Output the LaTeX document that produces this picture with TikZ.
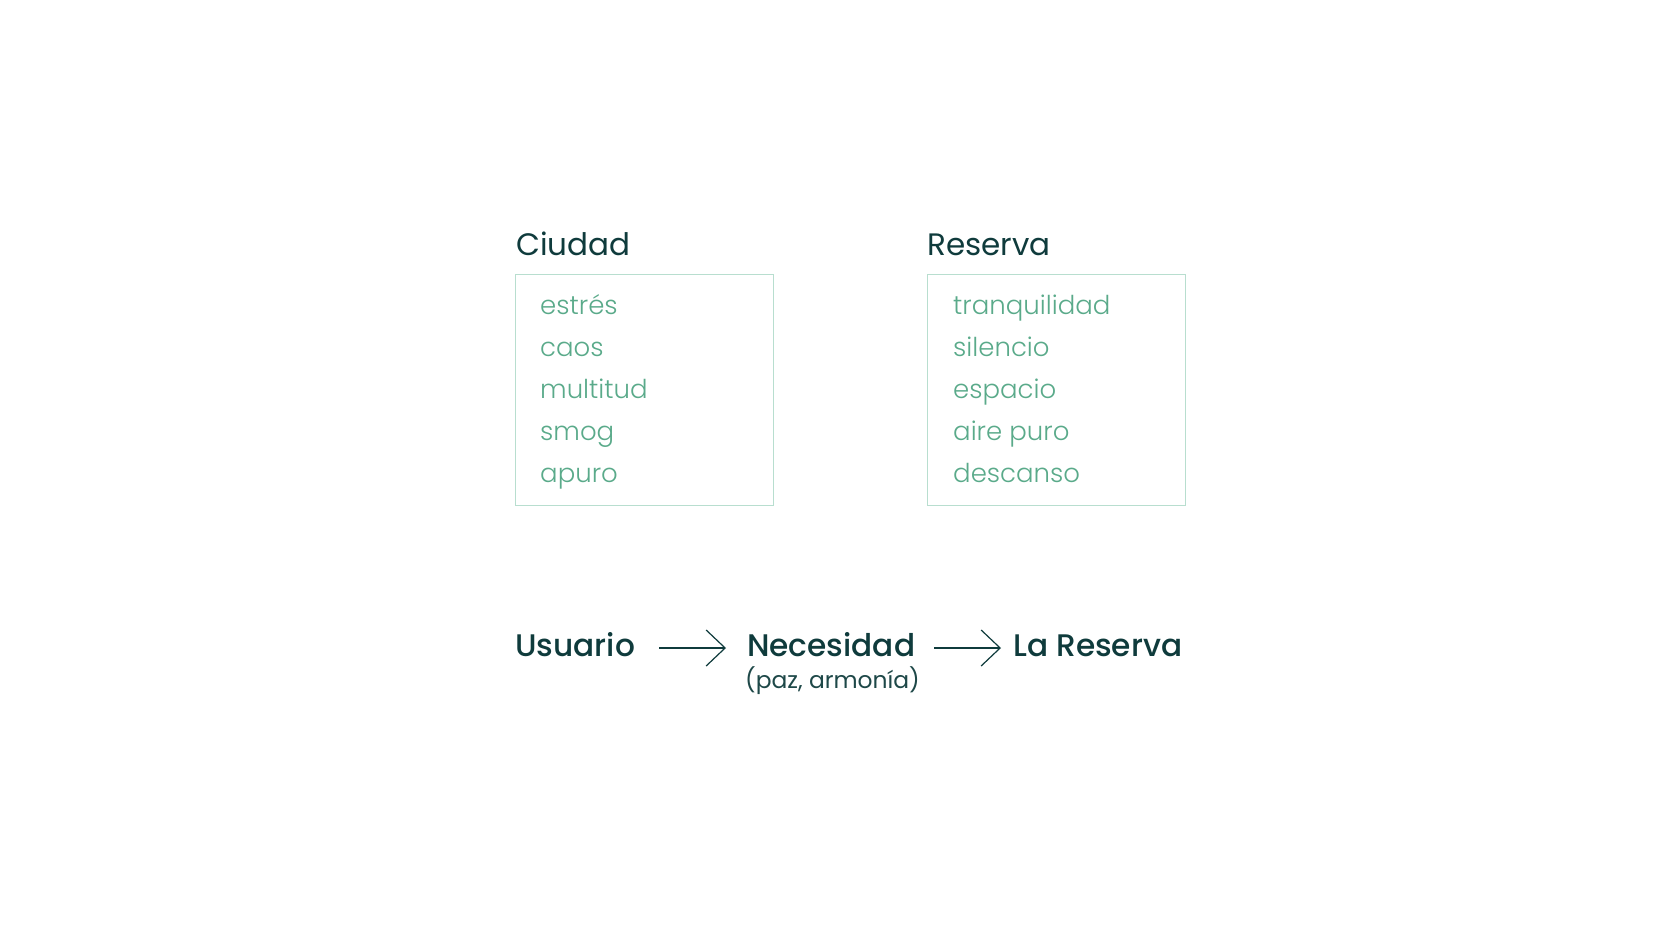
\documentclass[tikz,border=0pt]{standalone}
\usepackage{fontspec}
\setmainfont{Poppins}
\newfontfamily\lightfont{Poppins Light}
\newfontfamily\mediumfont{Poppins Medium}
\usetikzlibrary{arrows.meta}
\definecolor{inkdark}{HTML}{0F3B3C}
\definecolor{softink}{HTML}{1E4848}
\definecolor{listgreen}{HTML}{5AAA8A}
\definecolor{boxline}{HTML}{B8DECF}

\begin{document}
\begin{tikzpicture}[x=1pt,y=1pt,yscale=-1,
  title/.style={anchor=base west,inner sep=0pt,font=\fontsize{31}{31}\selectfont,text=inkdark},
  item/.style={anchor=base west,inner sep=0pt,font=\lightfont\fontsize{26}{26}\selectfont,text=listgreen},
  listbox/.style={draw=boxline,line width=1.3pt,anchor=north west,minimum width=258pt,minimum height=231pt,inner sep=0pt},
  flow/.style={anchor=base west,inner sep=0pt,font=\mediumfont\fontsize{31.2}{31.2}\selectfont,text=inkdark},
  note/.style={anchor=base west,inner sep=0pt,font=\fontsize{23.4}{23.4}\selectfont,text=softink},
  flowarrow/.style={draw=inkdark,line width=1.2pt,-{Straight Barb[length=19pt,width=36pt,line width=1.2pt]}}]
\useasboundingbox (0,0) rectangle (1664,933);

% titles
\node[title] (ciudad) at (516,256) {Ciudad};
\node[title] (reserva) at (927,256) {Reserva};

% boxes
\node[listbox] (ciudadbox) at (515,274) {};
\node[listbox] (reservabox) at (927,274) {};

% words
\foreach \word [count=\k] in {estrés,caos,multitud,smog,apuro}
  \node[item] (ciu\k) at (540,{272+42*\k}) {\word};
\foreach \word [count=\k] in {tranquilidad,silencio,espacio,aire puro,descanso}
  \node[item] (res\k) at (953,{272+42*\k}) {\word};

% flow
\node[flow] (usuario) at (515,656) {Usuario};
\node[flow] (necesidad) at (747,656) {Necesidad};
\node[flow] (lareserva) at (1013,656) {La Reserva};
\node[note] (paz) at (745,688) {(paz, armonía)};

\draw[flowarrow] ([shift={(24,-8)}]usuario.base east) -- ([shift={(-21,-8)}]necesidad.base west);
\draw[flowarrow] ([shift={(19,-8)}]necesidad.base east) -- ([shift={(-12,-8)}]lareserva.base west);

\end{tikzpicture}
\end{document}
